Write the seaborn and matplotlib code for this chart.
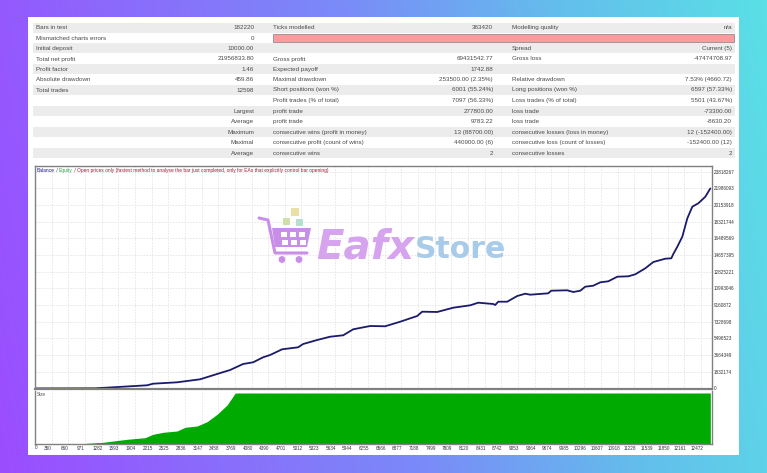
import numpy as np
import pandas as pd
import matplotlib
matplotlib.use("Agg")
import matplotlib.pyplot as plt
import seaborn as sns
from matplotlib.colors import LinearSegmentedColormap
from matplotlib.patches import Rectangle, Polygon, Circle
from matplotlib.transforms import ScaledTranslation

# ---------- data ----------
balance_trades = [40,1158,1494,2129,2242,2690,3120,3437,3680,3923,4110,4296,4427,4651,4950,
                  5044,5305,5548,5791,5978,6295,6575,6856,7173,7266,7547,7846,8163,8313,8593,
                  8630,8686,8854,9041,9191,9284,9620,9676,9975,10087,10218,10311,10461,10592,10741,
                  10909,11115,11245,11432,11582,11806,11918,11955,12030,12123,12217,12310,12422,12553,12646]
balance_values = [10000,22000,131700,351000,527000,680000,1010000,1592000,2031000,2689000,
                  2876000,3425000,3677000,4303000,4522000,4884000,5323000,5686000,5839000,6498000,
                  6860000,6830000,7332000,7958000,8430000,8400000,8869000,9132000,9418000,9275000,
                  9165000,9527000,9527000,10153000,10405000,10296000,10449000,10735000,10779000,10592000,
                  10735000,11174000,11284000,11657000,11766000,12271000,12315000,12535000,13193000,13885000,
                  14247000,14291000,14763000,15564000,16662000,18681000,19955000,20328000,21052000,21956833]
size_trades = [950,1009,1308,1756,2092,2242,2428,2690,2839,3064,3250,3437,3624,3773,3816,12646]
size_values = [0,1.4,3.3,9.2,12.4,19,22.9,25.5,32.7,35.3,43.7,58.2,76.5,99.4,100,100]
x_tick_labels = [0,350,660,971,1282,1593,1904,2215,2525,2836,3147,3458,3769,4080,4390,4701,5012,5323,
                 5634,5944,6255,6566,6877,7188,7499,7809,8120,8431,8742,9053,9364,9674,9985,10296,
                 10607,10918,11228,11539,11850,12161,12472]
y_tick_labels = [0,1832174,3664349,5496523,7328698,9160872,10993046,12825221,14657395,16489569,
                 18321744,20153918,21986093,23818267]
table_rows = [
    ("Bars in test","182220","Ticks modelled","363420","Modelling quality","n/a"),
    ("Mismatched charts errors","0","","","",""),
    ("Initial deposit","10000.00","","","Spread","Current (5)"),
    ("Total net profit","21956833.80","Gross profit","69431542.77","Gross loss","-47474708.97"),
    ("Profit factor","1.46","Expected payoff","1742.88","",""),
    ("Absolute drawdown","459.86","Maximal drawdown","253500.00 (2.35%)","Relative drawdown","7.53% (4660.72)"),
    ("Total trades","12598","Short positions (won %)","6001 (55.24%)","Long positions (won %)","6597 (57.33%)"),
    ("","","Profit trades (% of total)","7097 (56.33%)","Loss trades (% of total)","5501 (43.67%)"),
    ("","Largest","profit trade","277800.00","loss trade","-73300.00"),
    ("","Average","profit trade","9783.22","loss trade","-8630.20"),
    ("","Maximum","consecutive wins (profit in money)","13 (88700.00)","consecutive losses (loss in money)","12 (-152400.00)"),
    ("","Maximal","consecutive profit (count of wins)","440900.00 (6)","consecutive loss (count of losses)","-152400.00 (12)"),
    ("","Average","consecutive wins","2","consecutive losses","2"),
]
row_centers = [27.7,38,48.3,59,69.3,79.7,90,100.7,111,121.7,132,142.3,153]

balance = pd.DataFrame({"trades": balance_trades, "value": balance_values})

# ---------- figure ----------
sns.set_theme(style="white")
plt.rcParams["font.family"] = ["Liberation Sans", "DejaVu Sans"]
W, H = 767, 473
fig = plt.figure(figsize=(W/100, H/100), dpi=100)

def px_axes(l, t, r, b, **kw):
    return fig.add_axes([l/W, 1-b/H, (r-l)/W, (b-t)/H], **kw)

# background + panel + table
bg = fig.add_axes([0, 0, 1, 1], zorder=0)
gx, gy = np.meshgrid(np.linspace(0, 1, 400), np.linspace(0, 1, 200))
grad = 0.9*gx + 0.1*(1-gy)
cmap = LinearSegmentedColormap.from_list("bg", [(0, "#9b4dff"), (.5, "#7a8bf8"), (.75, "#64bdec"), (1, "#5ae0e6")])
bg.imshow(grad, cmap=cmap, extent=(0, W, H, 0), aspect="auto", vmin=0, vmax=1)
bg.set_xlim(0, W); bg.set_ylim(H, 0); bg.axis("off")
bg.add_patch(Rectangle((28, 17.5), 711, 437.5, fc="white", ec="none"))
text_col = "#4a4a4a"
for i, (row, yc) in enumerate(zip(table_rows, row_centers)):
    if i % 2 == 0:
        bg.add_patch(Rectangle((33, yc-5), 702, 10, fc="#ececec", ec="none"))
    kw = dict(va="center", fontsize=4.5, color=text_col)
    bg.text(36, yc, row[0], ha="left", **kw)
    bg.text(254, yc, row[1], ha="right", **kw)
    bg.text(273, yc, row[2], ha="left", **kw)
    bg.text(493, yc, row[3], ha="right", **kw)
    bg.text(512, yc, row[4], ha="left", **kw)
    bg.text(732, yc, row[5], ha="right", **kw)
bg.add_patch(Rectangle((272.5, 34.5), 461, 7.5, fc="#ff9a9f", ec="#9a8a90", lw=0.6))

# px = 33 + v*0.05356
xlim = ((35-33)/0.05356, (712-33)/0.05356)
grid_kw = dict(color="#e4e4e4", lw=0.6, ls=(0, (2, 1.5)))

# main chart
ax = px_axes(35, 166, 712, 389, zorder=1)
ax.set_facecolor("white")
sns.lineplot(data=balance, x="trades", y="value", ax=ax, color="#1b1a6b", lw=1.3, errorbar=None, estimator=None, sort=False)
ax.set_xlim(*xlim)
ax.set_ylim(-54881, 24422000)
ax.set_xticks(x_tick_labels[1:])
ax.set_xticklabels([])
ax.set_yticks(y_tick_labels)
ax.set_yticklabels([str(v) for v in y_tick_labels], fontsize=3.3, color="#333333")
ax.yaxis.tick_right()
ax.set_xlabel(""); ax.set_ylabel("")
ax.tick_params(length=0, pad=1.5)
ax.grid(True, **grid_kw)
ax.set_axisbelow(True)
for s in ax.spines.values():
    s.set_color("#808080"); s.set_linewidth(1.0)
ax.spines["bottom"].set_linewidth(1.6)

a = ax.annotate("Balance", xy=(37, 302.5), xycoords="figure pixels", fontsize=3.55, color="#1b1a8b", va="center")
a = ax.annotate(" / ", xy=(1, 0.5), xycoords=a, fontsize=3.55, color="#8a1a3a", va="center")
a = ax.annotate("Equity", xy=(1, 0.5), xycoords=a, fontsize=3.55, color="#2aa84a", va="center")
a = ax.annotate(" / Open prices only (fastest method to analyse the bar just completed, only for EAs that explicitly control bar opening)",
                xy=(1, 0.5), xycoords=a, fontsize=3.55, color="#a01f3c", va="center")

# size panel
ax2 = px_axes(35, 391, 712, 444, zorder=1)
ax2.set_facecolor("white")
ax2.fill_between(size_trades, size_values, 0, color="#00aa00", lw=0)
ax2.set_xlim(*xlim)
ax2.set_ylim(0, 103.9)
ax2.set_yticks([])
ax2.set_xticks(x_tick_labels[1:])
ax2.set_xticklabels([str(v) for v in x_tick_labels[1:]], fontsize=3.3, color="#333333")
ax2.tick_params(length=0, pad=1.5)
ax2.grid(True, axis="x", **grid_kw)
ax2.set_axisbelow(True)
for lab in ax2.get_xticklabels():
    lab.set_transform(lab.get_transform() + ScaledTranslation(-4/100, 0, fig.dpi_scale_trans))
for s in ax2.spines.values():
    s.set_color("#808080"); s.set_linewidth(1.0)
ax2.spines["top"].set_visible(False)
ax2.text(1.5/677, 1-3.5/53, "Size", transform=ax2.transAxes, fontsize=3.3, color="#555555", va="center")
ax2.annotate("0", xy=(36.5, 25.5), xycoords="figure pixels", fontsize=3.3, color="#333333", ha="center", va="center", annotation_clip=False)

# watermark
ov = fig.add_axes([0, 0, 1, 1], zorder=3)
ov.set_xlim(0, W); ov.set_ylim(H, 0); ov.axis("off"); ov.patch.set_alpha(0)
cart = "#c98fe8"
ov.plot([259, 268, 275, 307], [218, 220, 253, 253], color=cart, lw=2.2, solid_capstyle="round", solid_joinstyle="round")
ov.add_patch(Polygon([(272, 228), (311, 228), (307, 247), (275, 247)], fc=cart, ec="none"))
for xv in (281, 290, 299):
    ov.add_patch(Rectangle((xv, 232), 6, 5, fc="white", ec="none"))
    ov.add_patch(Rectangle((xv+0.5, 240), 6, 4.5, fc="white", ec="none"))
for cx in (282, 299):
    ov.add_patch(Circle((cx, 259.5), 3.8, fc=cart, ec="white", lw=0.5))
ov.add_patch(Rectangle((290.5, 208), 8, 8, fc="#ecdfa5", ec="none"))
ov.add_patch(Rectangle((282.5, 217.5), 7, 7, fc="#cfe0a8", ec="none"))
ov.add_patch(Rectangle((295.5, 219), 7, 6.5, fc="#b5e0d0", ec="none"))
ov.text(316, 258, "Eafx", fontsize=29, fontweight="bold", fontstyle="oblique", family="DejaVu Sans", color="#d6a4ee", va="baseline", ha="left")
ov.text(415, 257.5, "Store", fontsize=21.5, fontweight="bold", family="DejaVu Sans", color="#a8cbea", va="baseline", ha="left")

fig.savefig("out.png", dpi=100)
